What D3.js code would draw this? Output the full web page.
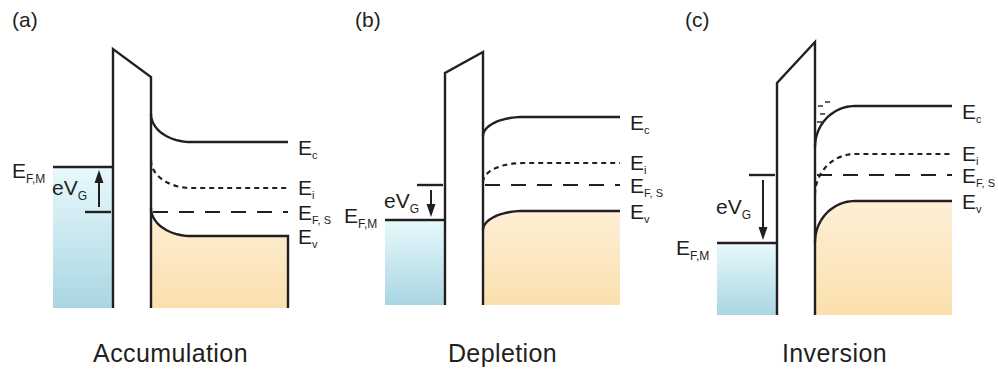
<!DOCTYPE html>
<html>
<head>
<meta charset="utf-8">
<script src="https://cdn.jsdelivr.net/npm/d3@7"></script>
<style>
  body { margin: 0; background: #fff; }
  svg { display: block; }
  text { font-family: "Liberation Sans", Arial, Helvetica, sans-serif; fill: #231f20; }
</style>
</head>
<body>
<svg id="chart" width="998" height="373"></svg>
<script>
// MOS capacitor band diagrams (p-type substrate) for three gate-bias regimes.
const panelLabels = ["(a)", "(b)", "(c)"];
const regimes = ["Accumulation", "Depletion", "Inversion"];

// Bulk band energies in the semiconductor (arbitrary energy units)
const ecBulk = [1.78, 2.03, 2.14];
const eiBulk = [1.32, 1.57, 1.66];
const efsLevel = [1.08, 1.35, 1.45];
const evBulk = [0.84, 1.09, 1.19];
// Band bending at the oxide interface (positive = bands bend up)
const bandBending = [0.28, -0.19, -0.41];
// Fermi level in the metal gate
const efmLevel = [1.53, 1.00, 0.77];
// Oxide barrier top: metal side and semiconductor side
const oxideTopMetal = [2.71, 2.47, 2.37];
const oxideTopSemi = [2.43, 2.68, 2.78];
// Lower edge of the drawn bands
const baseLevel = [0.12, 0.15, 0.05];
// Inversion electrons near the interface (panel c)
const electronOffsets = [9, 2, 4, 1];
const electronEnergies = [2.18, 2.14, 2.06, 1.98];
// Band labels: main symbol and subscript
const bandNames = ["E", "E", "E", "E"];
const bandSubs = ["c", "i", "F, S", "v"];

const ink = "#231f20";
const svg = d3.select("#chart");

const y = d3.scaleLinear().domain([0, 3]).range([320, 20]);

// Layout of each panel (pixels)
const panelLeft = [53, 385, 717];
const metalW = 60, oxideW = 38, semiW = 137, bendW = 40;
const labelTitleY = 362;

const defs = svg.append("defs");
const gm = defs.append("linearGradient").attr("id", "metalFill")
  .attr("x1", 0).attr("y1", 0).attr("x2", 0).attr("y2", 1);
gm.append("stop").attr("offset", "0%").attr("stop-color", "#e8f9fc");
gm.append("stop").attr("offset", "100%").attr("stop-color", "#a9d6e2");
const gs = defs.append("linearGradient").attr("id", "semiFill")
  .attr("x1", 0).attr("y1", 0).attr("x2", 0).attr("y2", 1);
gs.append("stop").attr("offset", "0%").attr("stop-color", "#fdefd6");
gs.append("stop").attr("offset", "100%").attr("stop-color", "#fbe0ad");

function subLabel(g, x, yy, main, sub, size, subSize, subDy) {
  const t = g.append("text").attr("x", x).attr("y", yy).style("font-size", size + "px");
  t.append("tspan").text(main);
  t.append("tspan").attr("dy", subDy).style("font-size", subSize + "px").text(sub);
  return t;
}

const line = d3.line();
const area = d3.area();

panelLabels.forEach((lab, i) => {
  const x = d3.scaleLinear().domain([0, metalW + oxideW + semiW])
    .range([panelLeft[i], panelLeft[i] + metalW + oxideW + semiW]);
  const g = svg.append("g");
  const xMetal0 = x(0), xOx0 = x(metalW), xOx1 = x(metalW + oxideW), xEnd = x(metalW + oxideW + semiW);
  const bend = bandBending[i];
  const yBase = y(baseLevel[i]);

  // band profile: quarter-ellipse bending from the interface into the bulk
  function profile(eBulk) {
    const pts = [];
    const n = 24;
    for (let k = 0; k <= n; k++) {
      const th = (Math.PI / 2) * k / n;
      const px = x(metalW + oxideW + bendW * (1 - Math.cos(th)));
      pts.push([px, y(eBulk + bend * (1 - Math.sin(th)))]);
    }
    pts.push([xEnd, y(eBulk)]);
    return pts;
  }

  // metal (filled below E_F,M)
  g.append("rect").attr("x", xMetal0).attr("y", y(efmLevel[i]))
    .attr("width", xOx0 - xMetal0).attr("height", yBase - y(efmLevel[i]))
    .attr("fill", "url(#metalFill)");

  // semiconductor valence band fill
  const evPts = profile(evBulk[i]);
  g.append("path").attr("d", area.x(d => d[0]).y0(yBase).y1(d => d[1])(evPts))
    .attr("fill", "url(#semiFill)");

  // metal Fermi level
  g.append("line").attr("x1", xMetal0).attr("x2", xOx0)
    .attr("y1", y(efmLevel[i])).attr("y2", y(efmLevel[i]))
    .attr("stroke", ink).attr("stroke-width", 2.4);

  // reference E_F,S level on the metal side
  g.append("line").attr("x1", x(32)).attr("x2", x(58))
    .attr("y1", y(efsLevel[i])).attr("y2", y(efsLevel[i]))
    .attr("stroke", ink).attr("stroke-width", 2.4);

  // oxide barrier outline
  g.append("path").attr("d", line([
      [xOx0, yBase], [xOx0, y(oxideTopMetal[i])],
      [xOx1, y(oxideTopSemi[i])], [xOx1, yBase]]))
    .attr("fill", "none").attr("stroke", ink).attr("stroke-width", 2.4)
    .attr("stroke-linejoin", "miter");

  // conduction band
  g.append("path").attr("d", line(profile(ecBulk[i])))
    .attr("fill", "none").attr("stroke", ink).attr("stroke-width", 2.4);
  // intrinsic level (dotted)
  g.append("path").attr("d", line(profile(eiBulk[i])))
    .attr("fill", "none").attr("stroke", ink).attr("stroke-width", 2.2)
    .attr("stroke-dasharray", "5,4");
  // semiconductor Fermi level (dashed)
  g.append("line").attr("x1", xOx1 + 2).attr("x2", xEnd)
    .attr("y1", y(efsLevel[i])).attr("y2", y(efsLevel[i]))
    .attr("stroke", ink).attr("stroke-width", 2.2)
    .attr("stroke-dasharray", "15,11");
  // valence band
  const evLine = i === 0 ? evPts.concat([[xEnd, yBase]]) : evPts;
  g.append("path").attr("d", line(evLine))
    .attr("fill", "none").attr("stroke", ink).attr("stroke-width", 2.4);

  // gate-voltage arrow between E_F,S and E_F,M
  const yFrom = y(efsLevel[i]), yTo = y(efmLevel[i]);
  const dir = Math.sign(yTo - yFrom);
  const ax = x(46);
  const yStart = yFrom + dir * 5, yTip = yTo - dir * 3;
  g.append("line").attr("x1", ax).attr("x2", ax)
    .attr("y1", yStart).attr("y2", yTip - dir * 10)
    .attr("stroke", ink).attr("stroke-width", 2);
  g.append("path").attr("d", line([
      [ax, yTip], [ax - 4.5, yTip - dir * 13], [ax + 4.5, yTip - dir * 13]]) + "Z")
    .attr("fill", ink);

  // eV_G label
  subLabel(g, x(-1), (yFrom + yTo) / 2 + 5, "eV", "G", 21, 12, 5);

  // E_F,M label
  const efmDy = [11, 3, 12][i];
  subLabel(g, x(-41), y(efmLevel[i]) + efmDy, "E", "F,M", 21, 12, 5);

  // band labels on the right
  const levels = [ecBulk[i], eiBulk[i], efsLevel[i], evBulk[i]];
  const dys = [13, 7, 8, 8];
  levels.forEach((e, k) => {
    subLabel(g, xEnd + 10, y(e) + dys[k], bandNames[k], bandSubs[k], 21, 11, 4);
  });

  // inversion electrons
  if (i === 2) {
    electronOffsets.forEach((off, k) => {
      g.append("line").attr("x1", xOx1 + off + 1).attr("x2", xOx1 + off + 6)
        .attr("y1", y(electronEnergies[k])).attr("y2", y(electronEnergies[k]))
        .attr("stroke", ink).attr("stroke-width", 1.4);
    });
  }

  // panel tag and regime title
  const tagX = [12, 355, 685][i];
  g.append("text").attr("x", tagX).attr("y", 27).style("font-size", "21px").text(lab);
  g.append("text").attr("x", x((metalW + oxideW + semiW) / 2)).attr("y", labelTitleY)
    .attr("text-anchor", "middle").style("font-size", "25px")
    .style("letter-spacing", "0.4px").text(regimes[i]);
});
</script>
</body>
</html>
